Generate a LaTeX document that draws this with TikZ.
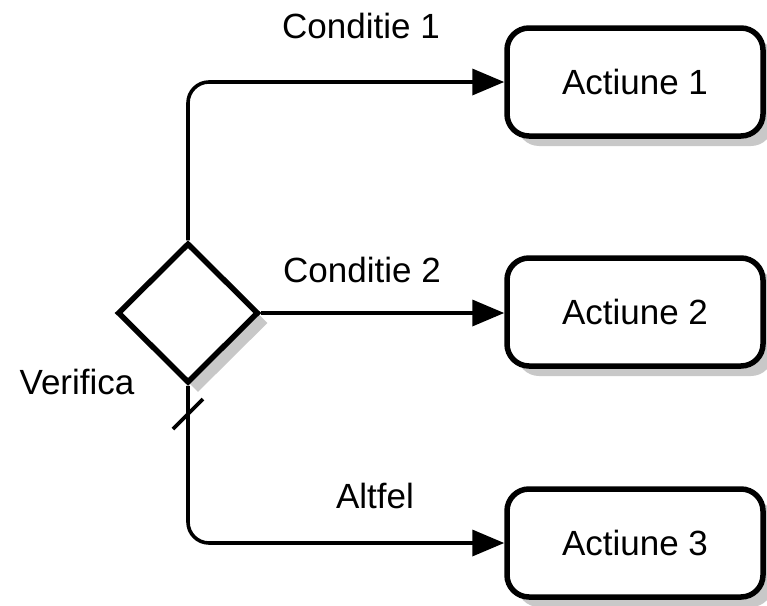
\documentclass[tikz,border=0pt]{standalone}
\usepackage{fontspec}
\setmainfont{Liberation Sans}
\usetikzlibrary{shapes.geometric,arrows.meta,shadows}
\definecolor{shadowgray}{RGB}{200,200,200}
\tikzset{
  action/.style={draw=black, line width=5.5pt, rounded corners=22pt, fill=white,
    minimum width=256pt, minimum height=108pt, inner sep=0pt,
    font=\fontsize{35}{40}\selectfont,
    drop shadow={shadow xshift=10pt, shadow yshift=-10pt, fill=shadowgray, opacity=1}},
  decision/.style={draw=black, line width=5.5pt, diamond, fill=white,
    minimum width=141pt, minimum height=140pt, inner sep=0pt,
    drop shadow={shadow xshift=10pt, shadow yshift=-10pt, fill=shadowgray, opacity=1}},
  flow/.style={line width=3.6pt, rounded corners=21pt,
    -{Triangle[length=32pt, width=26pt]}},
  lbl/.style={font=\fontsize{35}{40}\selectfont, inner sep=0pt}
}
\begin{document}
\begin{tikzpicture}[x=1pt, y=-1pt]
  \useasboundingbox (0,0) rectangle (767,605);

  % decision and actions
  \node[decision] (check) at (188,313) {};
  \node[action] (act1) at (635,82)  {Actiune 1};
  \node[action] (act2) at (635,312) {Actiune 2};
  \node[action] (act3) at (635,543) {Actiune 3};

  % branches
  \draw[flow] (check.north) |- (act1.west);
  \draw[flow, rounded corners=0pt] (check.east) -- (check.east -| act2.west);
  \draw[flow] (check.south) |- (act3.west);

  % default-branch tick across the lower line
  \coordinate (tickA) at (173,429);
  \coordinate (tickB) at (203,399);
  \draw[line width=3.6pt] (tickA) -- (tickB);

  % labels
  \node[lbl] (c1) at (361,26) {Conditie 1};
  \node[lbl] (c2) at (362,270) {Conditie 2};
  \node[lbl] (c3) at (375,496) {Altfel};
  \node[lbl] (vf) at (77,382) {Verifica};
\end{tikzpicture}
\end{document}
